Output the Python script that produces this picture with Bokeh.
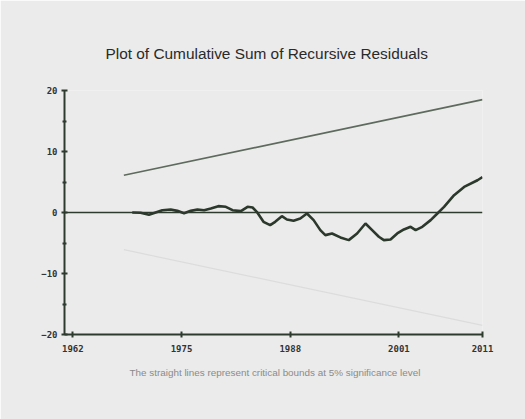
from bokeh.plotting import figure
from bokeh.models import Range1d, FixedTicker, Span, Title
from bokeh.embed import file_html
from bokeh.resources import INLINE

# CUSUM of recursive residuals
years = [1969.1, 1970.1, 1971.1, 1971.9, 1972.7, 1973.7, 1974.5, 1975.3, 1976.1, 1976.9,
         1977.7, 1978.5, 1979.4, 1980.3, 1981.1, 1982.1, 1982.9, 1983.5, 1984.0, 1984.8,
         1985.6, 1986.2, 1987.0, 1987.6, 1988.4, 1989.2, 1990.0, 1990.8, 1991.6, 1992.2,
         1993.0, 1994.0, 1995.0, 1996.0, 1997.0, 1997.8, 1998.6, 1999.2, 2000.0, 2000.8,
         2001.6, 2002.4, 2003.0, 2003.8, 2004.8, 2005.6, 2006.4, 2007.6, 2008.8, 2010.4, 2011.0]
cusum = [0.0, -0.05, -0.38, 0.0, 0.38, 0.49, 0.27, -0.11, 0.27, 0.49,
         0.38, 0.65, 1.04, 0.93, 0.38, 0.22, 0.93, 0.82, 0.11, -1.53,
         -2.07, -1.53, -0.6, -1.15, -1.36, -0.98, -0.16, -1.25, -2.89, -3.71,
         -3.44, -4.09, -4.53, -3.44, -1.8, -2.89, -3.98, -4.53, -4.42, -3.44,
         -2.78, -2.35, -2.89, -2.35, -1.25, -0.16, 0.93, 2.84, 4.2, 5.29, 5.8]

# 5% critical bounds
bound_years = [1968.1, 2011.0]
upper_bound = [6.1, 18.5]
lower_bound = [-6.1, -18.5]

x_ticks = [1962, 1975, 1988, 2001, 2011]
y_ticks = [-20, -10, 0, 10, 20]
y_minor = [-15, -5, 5, 15]

title_text = "Plot of Cumulative Sum of Recursive Residuals"
note_text = "The straight lines represent critical bounds at 5% significance level"

BG = "#ebebeb"
DARK = "#2f3a2f"

p = figure(width=525, height=419, output_backend="svg", toolbar_location=None,
           x_range=Range1d(1961, 2011), y_range=Range1d(-20, 20),
           min_border_left=64, min_border_right=43, min_border_top=90, min_border_bottom=85)
p.background_fill_color = BG
p.border_fill_color = BG
p.outline_line_color = None
p.xgrid.visible = False
p.ygrid.visible = False

for ax in (p.xaxis[0], p.yaxis[0]):
    ax.axis_line_color = DARK
    ax.axis_line_width = 2
    ax.major_tick_line_color = DARK
    ax.major_tick_line_width = 2
    ax.minor_tick_line_color = DARK
    ax.minor_tick_line_width = 2
    ax.major_tick_in = 3
    ax.major_tick_out = 3
    ax.major_label_text_font = "DejaVu Sans Mono"
    ax.major_label_text_font_style = "bold"
    ax.major_label_text_font_size = "9px"
    ax.major_label_text_color = "#333333"

p.xaxis.ticker = FixedTicker(ticks=x_ticks)
p.xaxis.minor_tick_line_color = None
p.xaxis.major_label_standoff = 7
p.yaxis.ticker = FixedTicker(ticks=y_ticks, minor_ticks=y_minor)
p.yaxis.minor_tick_in = 2
p.yaxis.minor_tick_out = 2
p.yaxis.major_label_standoff = 4

p.add_layout(Span(location=0, dimension="width", line_color=DARK, line_width=1.5))
p.line(bound_years, upper_bound, line_color="#5e6a5e", line_width=1.6)
p.line(bound_years, lower_bound, line_color="#dcdcdc", line_width=1.2)
p.line(years, cusum, line_color="#2b382b", line_width=2.6)

p.add_layout(Title(text=title_text, align="left", offset=41, standoff=57,
                   text_font="Liberation Sans", text_font_style="normal",
                   text_font_size="15.4px", text_color="#2a2a2a"), "above")
p.add_layout(Title(text=note_text, align="left", offset=65, standoff=20,
                   text_font="Liberation Sans", text_font_style="normal",
                   text_font_size="9.9px", text_color="#8a8a8a"), "below")

html = file_html(p, INLINE)
html = html.replace("<body>", '<body style="background:%s; margin:0; overflow:hidden">' % BG, 1)
open("out.html", "w").write(html)
